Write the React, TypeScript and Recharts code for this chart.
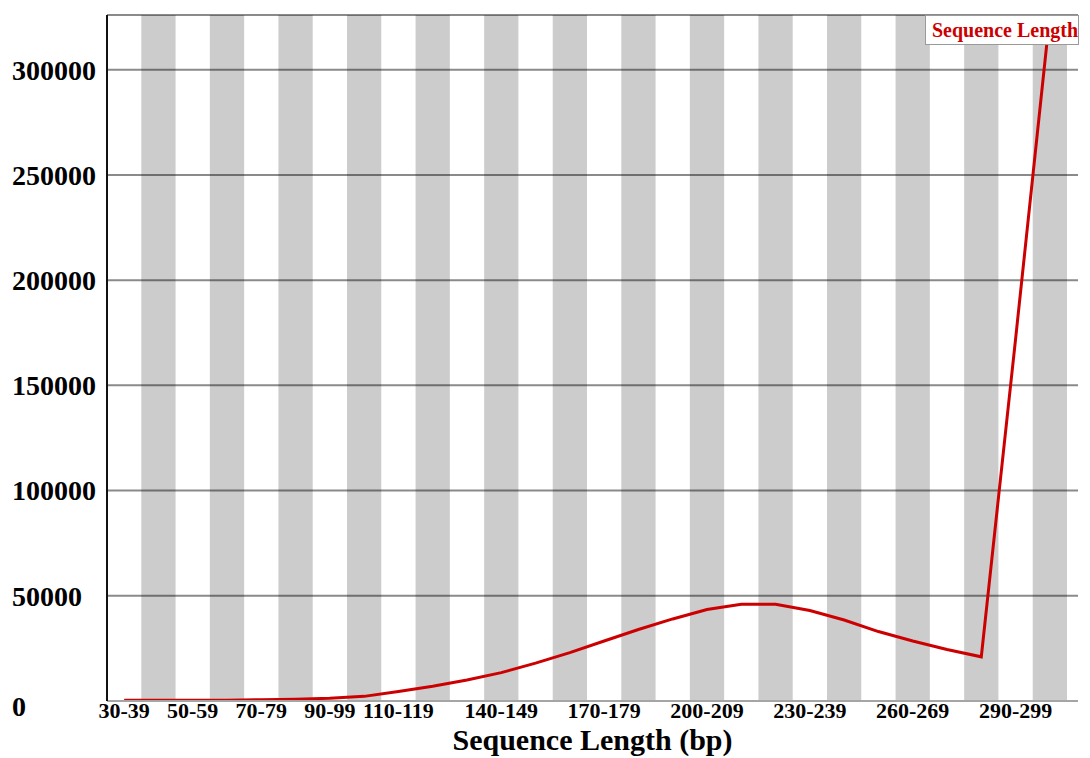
import React from 'react';
import {
  ComposedChart, Line, XAxis, YAxis, CartesianGrid, ReferenceArea, Legend
} from 'recharts';

// read-length bins (10 bp each) and number of reads per bin
const lengthBins = [
  '30-39', '40-49', '50-59', '60-69', '70-79', '80-89', '90-99',
  '100-109', '110-119', '120-129', '130-139', '140-149', '150-159', '160-169',
  '170-179', '180-189', '190-199', '200-209', '210-219', '220-229', '230-239',
  '240-249', '250-259', '260-269', '270-279', '280-289', '290-299', '300-309'
];

const readCounts = [
  300, 300, 300, 400, 600, 800, 1300,
  2200, 4500, 7000, 10000, 13500, 18000, 23000,
  28500, 34000, 39000, 43500, 46000, 46000, 43000,
  38500, 33000, 28500, 24500, 21000, 172000, 326000
];

// only these bins get a label under the axis
const labeledBins = [
  '30-39', '50-59', '70-79', '90-99', '110-119', '140-149',
  '170-179', '200-209', '230-239', '260-269', '290-299'
];

const yTicks = [0, 50000, 100000, 150000, 200000, 250000, 300000];
const yMax = 326000;

const data = lengthBins.map((range, i) => ({ range, count: readCounts[i] }));

const FONT = '"Liberation Serif", "Times New Roman", serif';

const XTick = (props: any) => {
  const { x, y, payload } = props;
  if (!labeledBins.includes(payload.value)) return null;
  return (
    <text x={x} y={y - 5} dy="0.71em" textAnchor="middle" fontFamily={FONT}
      fontWeight="bold" fontSize={22} fill="#000">
      {payload.value}
    </text>
  );
};

const YTick = (props: any) => {
  const { y, payload } = props;
  // the bottom label sits a little lower so it clears the axis
  const shift = payload.value === 0 ? 5 : 0;
  return (
    <text x={12} y={y + shift} dy="0.35em" textAnchor="start" fontFamily={FONT}
      fontWeight="bold" fontSize={28} fill="#000">
      {payload.value}
    </text>
  );
};

const LegendBox = (props: any) => {
  const entry = props.payload && props.payload[0];
  return (
    <div style={{
      border: '1px solid #9a9a9a', background: '#fff', height: 30,
      boxSizing: 'border-box', paddingLeft: 6, lineHeight: '28px',
      fontFamily: FONT, fontWeight: 'bold', fontSize: 20, whiteSpace: 'nowrap',
      color: entry ? entry.color : '#c00000'
    }}>
      {entry ? entry.value : ''}
    </div>
  );
};

export default function App() {
  return (
    <div style={{ position: 'absolute', left: 0, top: 0, background: '#fff' }}>
      <ComposedChart width={1090} height={758} data={data}
        margin={{ top: 15, right: 12, bottom: 0, left: 0 }}>
        {lengthBins.filter((_, i) => i % 2 === 1).map((bin) => (
          <ReferenceArea key={bin} x1={bin} x2={bin} fill="#000"
            fillOpacity={0.2} stroke="none" />
        ))}
        <CartesianGrid vertical={false} stroke="#8a8a8a" strokeWidth={2} />
        <XAxis dataKey="range" type="category" scale="band" interval={0}
          padding={{ left: 0, right: 11 }} height={57}
          axisLine={{ stroke: '#a5a5a5', strokeWidth: 2 }} tickLine={false}
          tickMargin={0} tick={<XTick />}
          label={(p: any) => {
            const vb = p.viewBox;
            return (
              <text x={vb.x + vb.width / 2} y={vb.y + 49} textAnchor="middle"
                fontFamily={FONT} fontWeight="bold" fontSize={30} fill="#000">
                Sequence Length (bp)
              </text>
            );
          }}
        />
        <YAxis type="number" domain={[0, yMax]} ticks={yTicks} width={107}
          allowDataOverflow axisLine={{ stroke: '#111', strokeWidth: 2 }}
          tickLine={false} tick={<YTick />} />
        <Legend layout="horizontal" verticalAlign="middle" align="center"
          wrapperStyle={{ top: 15, left: 925, width: 154, height: 30 }}
          content={<LegendBox />} />
        <Line type="linear" dataKey="count" name="Sequence Length"
          stroke="#cc0000" strokeWidth={3} dot={false} activeDot={false}
          isAnimationActive={false} />
      </ComposedChart>
    </div>
  );
}
